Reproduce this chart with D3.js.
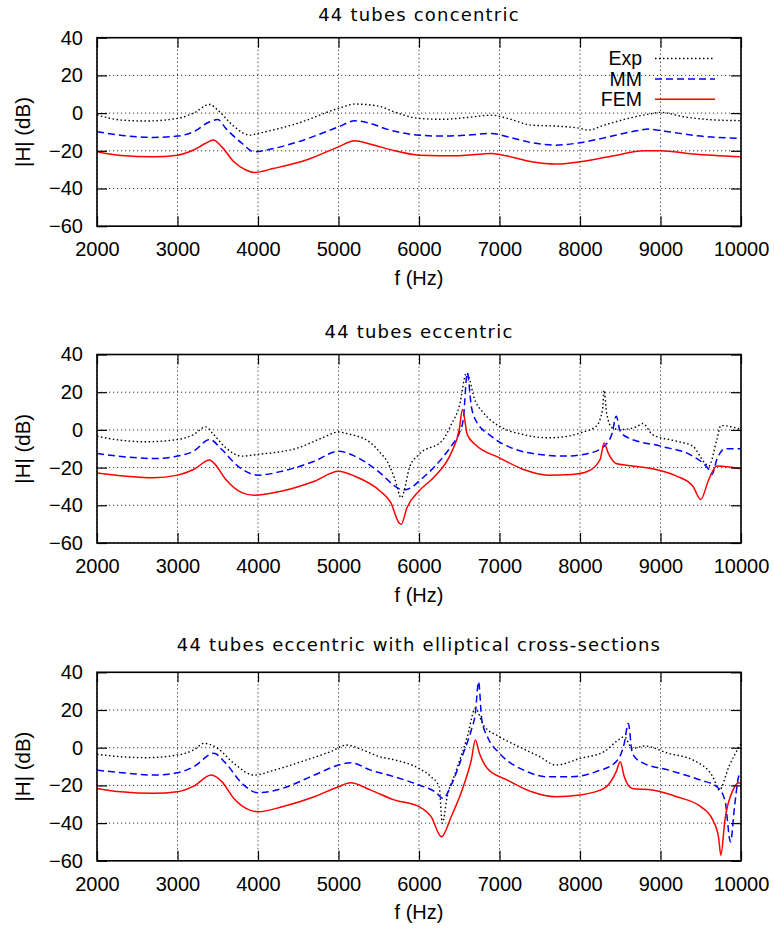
<!DOCTYPE html>
<html>
<head>
<meta charset="utf-8">
<script src="https://cdn.jsdelivr.net/npm/d3@7"></script>
<style>
  html, body { margin: 0; padding: 0; background: #fff; }
  svg { display: block; }
</style>
</head>
<body>
<svg id="chart" width="774" height="929"></svg>
<script>
// ---------------- data ----------------
const xTicks = [2000, 3000, 4000, 5000, 6000, 7000, 8000, 9000, 10000];
const yTicks = [-60, -40, -20, 0, 20, 40];
const titles = ["44 tubes concentric", "44 tubes eccentric", "44 tubes eccentric with elliptical cross-sections"];
const seriesNames = ["Exp", "MM", "FEM"];
const xLabel = "f (Hz)";
const yLabel = "|H| (dB)";

// Panel 1: 44 tubes concentric
const concentricExp = [[2000,-1],[2300,-3.7],[2600,-4.2],[3000,-2.8],[3200,0],[3400,4.6],[3500,1.6],[3700,-7],[3900,-11.7],[4000,-10.8],[4500,-5.3],[5000,2.5],[5200,4.8],[5500,3.7],[5700,0.5],[6000,-2.8],[6300,-3.3],[6600,-2.3],[6900,-1.1],[7100,-2.8],[7400,-6.4],[7700,-6.9],[8000,-8.1],[8100,-9],[8300,-6.4],[8600,-2.8],[8900,-0.2],[9000,0.4],[9300,-2],[9700,-3.7],[10000,-4]];
const concentricMM = [[2000,-9.9],[2400,-12.2],[2700,-12.9],[3000,-12.2],[3200,-9.9],[3400,-4.6],[3500,-3.4],[3600,-8.1],[3800,-16],[3950,-20.5],[4100,-19.6],[4500,-15.2],[5000,-7.3],[5200,-4.1],[5400,-5.5],[5600,-8.5],[6000,-11.7],[6300,-12.2],[6600,-11.7],[6900,-10.8],[7100,-12.6],[7400,-15.7],[7700,-17],[8000,-15.7],[8400,-12.2],[8700,-9.4],[8850,-8.5],[9100,-9.9],[9500,-12.2],[10000,-13.4]];
const concentricFEM = [[2000,-20.5],[2300,-22.5],[2700,-23.2],[3000,-22.3],[3200,-19.6],[3350,-16],[3445,-14.3],[3550,-17.9],[3700,-25.8],[3850,-30.2],[3950,-31.5],[4200,-29.3],[4600,-24.9],[5000,-17.9],[5200,-14.7],[5400,-16.5],[5700,-20],[6000,-22.3],[6500,-22.6],[6900,-21.4],[7100,-22.8],[7400,-25.8],[7700,-27],[8000,-25.8],[8400,-22.8],[8800,-20],[9000,-20],[9400,-21.7],[10000,-23.2]];

// Panel 2: 44 tubes eccentric
const eccentricExp = [[2000,-3.4],[2300,-5.5],[2600,-6.3],[3000,-5.1],[3200,-2.5],[3350,1.6],[3450,-2.5],[3600,-9.5],[3800,-13.9],[4000,-13],[4500,-9.5],[4800,-4.2],[5000,-1.1],[5100,-1.9],[5400,-6.9],[5516,-12],[5615,-17.5],[5700,-26],[5779,-36],[5888,-19.2],[6000,-13],[6300,-5.1],[6400,2.8],[6500,12.5],[6590,30.2],[6700,15.2],[6800,9],[7000,1.9],[7300,-2.5],[7600,-4.2],[7800,-3.7],[8000,-1.6],[8200,1.9],[8280,10.8],[8300,21],[8330,9],[8400,1.1],[8500,0.2],[8700,1.6],[8780,3.4],[8900,-2.5],[9200,-6],[9400,-8.6],[9550,-17.5],[9600,-19.2],[9700,-5.1],[9750,2.3],[9850,1.9],[10000,0.2]];
const eccentricMM = [[2000,-12.5],[2400,-14.5],[2700,-15.2],[3000,-13.9],[3200,-11.3],[3400,-5.1],[3550,-10.4],[3750,-19.2],[4000,-24],[4300,-21.9],[4700,-16.6],[5000,-11.3],[5200,-13.9],[5516,-22.8],[5700,-29.8],[5800,-31.9],[5900,-30.7],[6000,-27.2],[6200,-19.2],[6400,-8.6],[6500,-1.6],[6550,5.5],[6600,30.2],[6650,12.5],[6700,5.5],[6900,-3.4],[7200,-10.4],[7500,-13],[7800,-13.9],[8100,-12.5],[8300,-8.6],[8400,-1.6],[8450,7.2],[8500,-0.7],[8600,-4.2],[9000,-8.6],[9400,-13.9],[9600,-21],[9640,-23.6],[9700,-15.7],[9800,-10],[10000,-10]];
const eccentricFEM = [[2000,-22.8],[2500,-25],[2700,-25.4],[3000,-24],[3200,-21],[3400,-16],[3450,-17.5],[3600,-26.3],[3800,-33.3],[3950,-34.7],[4300,-32.4],[4700,-27.2],[5000,-21.9],[5200,-24.5],[5516,-32.4],[5650,-38.6],[5750,-49.2],[5780,-50],[5850,-41.3],[6000,-32.4],[6200,-24.5],[6400,-12.2],[6500,0.2],[6540,10.8],[6600,-2.5],[6700,-7.8],[7000,-14.8],[7300,-21],[7600,-24],[7900,-23.6],[8100,-21.9],[8250,-15.7],[8300,-6.9],[8350,-12.2],[8450,-17.8],[8600,-18.9],[8900,-20.6],[9200,-24.5],[9400,-29.8],[9500,-36.9],[9600,-26.3],[9700,-19.2],[10000,-20.6]];

// Panel 3: 44 tubes eccentric with elliptical cross-sections
const ellipticExp = [[2000,-3.5],[2300,-4.8],[2600,-5.3],[3000,-3.9],[3200,-1.2],[3330,2.3],[3500,-0.4],[3700,-8.3],[3950,-14.5],[4200,-11.9],[4600,-6.5],[4900,-2.1],[5100,1.4],[5300,-1.2],[5516,-4.8],[5700,-6.5],[6000,-11],[6150,-15.4],[6250,-20.7],[6290,-40],[6350,-26],[6450,-13.6],[6600,5.8],[6700,20.9],[6800,12],[7000,5.8],[7200,1.4],[7500,-4.8],[7700,-9.2],[8000,-5.7],[8300,-2.1],[8450,3.2],[8550,5.8],[8650,-0.4],[8800,0.9],[9100,-3],[9400,-6.5],[9650,-15.4],[9730,-22.5],[9850,-10],[10000,2.3]];
const ellipticMM = [[2000,-11.9],[2400,-13.6],[2700,-14.5],[3000,-13.3],[3200,-10.1],[3450,-3],[3600,-8.3],[3800,-18.9],[4000,-23.9],[4300,-21.6],[4700,-14.5],[5000,-9.2],[5150,-8],[5400,-11.9],[5700,-15.5],[6000,-19.8],[6200,-23.4],[6300,-26.9],[6400,-19.8],[6550,-3],[6650,9.4],[6700,18.2],[6740,35],[6780,14.7],[6850,5.8],[7000,-3],[7300,-11.9],[7600,-15.4],[7900,-15.4],[8200,-12.7],[8450,-7.4],[8550,2.3],[8600,12.9],[8650,-3],[8750,-7.4],[9100,-11.9],[9500,-17.2],[9700,-20.7],[9800,-27.8],[9870,-50],[9920,-31],[9970,-15.4],[10000,-12.7]];
const ellipticFEM = [[2000,-21.6],[2300,-23.4],[2700,-24.2],[3000,-23.4],[3200,-20.4],[3420,-14.5],[3550,-18],[3700,-26.9],[3900,-33.1],[4000,-34],[4300,-31.3],[4700,-26],[5000,-20.7],[5150,-18.6],[5400,-22.5],[5700,-27.8],[6000,-31.3],[6150,-36.6],[6280,-47.3],[6400,-36.6],[6550,-20.7],[6650,-6.5],[6700,4.1],[6750,-3],[6850,-11],[7100,-17.2],[7400,-23.4],[7700,-26],[8000,-25.1],[8300,-21.6],[8450,-12.7],[8500,-7.4],[8550,-15.4],[8650,-21.6],[8900,-22.5],[9200,-26],[9500,-31.3],[9650,-38.4],[9720,-47.3],[9750,-57],[9800,-38.4],[9900,-22.5],[9970,-18.6],[10000,-19]];

const panelData = [
  [concentricExp, concentricMM, concentricFEM],
  [eccentricExp, eccentricMM, eccentricFEM],
  [ellipticExp, ellipticMM, ellipticFEM]
];

// ---------------- layout / style ----------------
const plotLeft = 97, plotRight = 741, plotH = 188.5;
const panelTops = [37.7, 354.5, 672.3];
const titleBaselines = [21, 338, 651];
const styles = [
  { color: "#000", dash: "1.5,2.5", width: 1.4 },
  { color: "#0000ff", dash: "7,4", width: 1.5 },
  { color: "#ff0000", dash: null, width: 1.5 }
];
const tickFont = "'Liberation Sans', Arial, sans-serif";
const titleFont = "'DejaVu Sans', sans-serif";

const svg = d3.select("#chart");
const x = d3.scaleLinear().domain([2000, 10000]).range([plotLeft, plotRight]);

panelData.forEach((series, pi) => {
  const top = panelTops[pi], bottom = top + plotH;
  const y = d3.scaleLinear().domain([-60, 40]).range([bottom, top]);
  const g = svg.append("g");

  // grid
  g.append("g").selectAll("line.vx").data(xTicks).join("line")
    .attr("x1", d => x(d)).attr("x2", d => x(d)).attr("y1", top).attr("y2", bottom)
    .attr("stroke", "#000").attr("stroke-width", 0.8).attr("stroke-dasharray", "1.2,2.8");
  g.append("g").selectAll("line.hy").data(yTicks).join("line")
    .attr("x1", plotLeft).attr("x2", plotRight).attr("y1", d => y(d)).attr("y2", d => y(d))
    .attr("stroke", "#000").attr("stroke-width", 0.8).attr("stroke-dasharray", "1.2,2.8");

  // curves
  const clipId = "clip" + pi;
  svg.append("clipPath").attr("id", clipId).append("rect")
    .attr("x", plotLeft).attr("y", top - 1).attr("width", plotRight - plotLeft).attr("height", plotH + 2);
  const line = d3.line().x(d => x(d[0])).y(d => y(d[1])).curve(d3.curveMonotoneX);
  series.forEach((data, si) => {
    const st = styles[si];
    g.append("path").datum(data)
      .attr("clip-path", `url(#${clipId})`)
      .attr("d", line)
      .attr("fill", "none")
      .attr("stroke", st.color)
      .attr("stroke-width", st.width)
      .attr("stroke-dasharray", st.dash)
      .attr("stroke-linejoin", "round");
  });

  // axes with inward ticks (mirrored)
  const tl = 10;
  const axB = d3.axisBottom(x).tickValues(xTicks).tickSizeInner(-tl).tickSizeOuter(0).tickPadding(16).tickFormat(d3.format("d"));
  const axT = d3.axisTop(x).tickValues(xTicks).tickSizeInner(-tl).tickSizeOuter(0).tickFormat("");
  const axL = d3.axisLeft(y).tickValues(yTicks).tickSizeInner(-tl).tickSizeOuter(0).tickPadding(14).tickFormat(d3.format("d"));
  const axR = d3.axisRight(y).tickValues(yTicks).tickSizeInner(-tl).tickSizeOuter(0).tickFormat("");

  const styleAxis = sel => {
    sel.select(".domain").remove();
    sel.selectAll(".tick line").attr("stroke", "#000").attr("stroke-width", 1.2);
    sel.selectAll(".tick text").attr("fill", "#000").style("font-family", tickFont).style("font-size", "20px");
  };
  g.append("g").attr("transform", `translate(0,${bottom})`).call(axB).call(styleAxis);
  g.append("g").attr("transform", `translate(0,${top})`).call(axT).call(styleAxis);
  g.append("g").attr("transform", `translate(${plotLeft},0)`).call(axL).call(styleAxis);
  g.append("g").attr("transform", `translate(${plotRight},0)`).call(axR).call(styleAxis);

  // border
  g.append("rect").attr("x", plotLeft).attr("y", top).attr("width", plotRight - plotLeft).attr("height", plotH)
    .attr("fill", "none").attr("stroke", "#000").attr("stroke-width", 1.6);

  // title
  g.append("text").attr("x", (plotLeft + plotRight) / 2).attr("y", titleBaselines[pi])
    .attr("text-anchor", "middle").style("font-family", titleFont).style("font-size", "18px")
    .style("letter-spacing", "1.2px").attr("fill", "#000").text(titles[pi]);

  // x label
  g.append("text").attr("x", (plotLeft + plotRight) / 2).attr("y", bottom + 58.5)
    .attr("text-anchor", "middle").style("font-family", tickFont).style("font-size", "20px")
    .attr("fill", "#000").text(xLabel);

  // y label
  g.append("text").attr("transform", `translate(30,${(top + bottom) / 2}) rotate(-90)`)
    .attr("text-anchor", "middle").style("font-family", tickFont).style("font-size", "20.5px")
    .attr("fill", "#000").text(yLabel);

  // legend (first panel only)
  if (pi === 0) {
    const legY = [58.5, 79, 99.3];
    seriesNames.forEach((name, si) => {
      const st = styles[si];
      g.append("text").attr("x", 642).attr("y", legY[si]).attr("dy", "0.35em")
        .attr("text-anchor", "end").style("font-family", tickFont).style("font-size", "19.5px")
        .attr("fill", "#000").text(name);
      g.append("line").attr("x1", 655).attr("x2", 715).attr("y1", legY[si]).attr("y2", legY[si])
        .attr("stroke", st.color).attr("stroke-width", st.width).attr("stroke-dasharray", st.dash);
    });
  }
});
</script>
</body>
</html>
